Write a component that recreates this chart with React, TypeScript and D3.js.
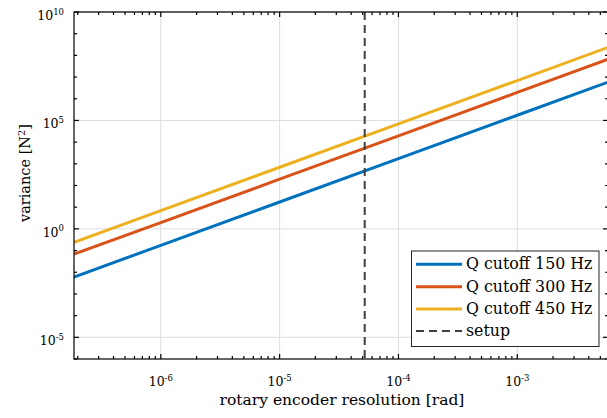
import React from "react";
import * as d3 from "d3";

// Encoder resolution sample points [rad]
const resolution = [1.86e-7, 1e-6, 1e-5, 1e-4, 1e-3, 5.8e-3];
// Force variance [N^2] for each Q-filter cutoff
const variance150 = [6.0e-3, 0.174, 17.4, 1.74e3, 1.74e5, 5.85e6];
const variance300 = [0.068, 1.95, 195, 1.95e4, 1.95e6, 6.56e7];
const variance450 = [0.24, 6.9, 692, 6.9e4, 6.9e6, 2.33e8];
const seriesNames = ["Q cutoff 150 Hz", "Q cutoff 300 Hz", "Q cutoff 450 Hz"];
const seriesColors = ["#0072BD", "#D95319", "#EDB120"];
const setupResolution = 5.2e-5;
const xTickExps = [-6, -5, -4, -3];
const yTickExps = [-5, 0, 5, 10];

const W = 607;
const H = 418;
const left = 74;
const right = 608;
const top = 12;
const bottom = 359;
const FONT = "DejaVu Serif";

export default function App() {
  const x = d3.scaleLog().domain([1.86e-7, 5.8e-3]).range([left, right]);
  const y = d3.scaleLog().domain([1e-6, 1e10]).range([bottom, top]);
  const all = [variance150, variance300, variance450];
  const line = d3
    .line<[number, number]>()
    .x((d) => x(d[0]))
    .y((d) => y(d[1]));

  // minor ticks on x: 2..9 within each decade
  const xMinor: number[] = [];
  for (let e = -7; e <= -3; e++) {
    for (let m = 2; m <= 9; m++) {
      const v = m * Math.pow(10, e);
      if (v > 1.86e-7 && v < 5.8e-3) xMinor.push(v);
    }
  }
  const xMajor = xTickExps.map((e) => Math.pow(10, e));
  const yMinor: number[] = [];
  for (let e = -6; e <= 10; e++) if (!yTickExps.includes(e)) yMinor.push(Math.pow(10, e));
  const yMajor = yTickExps.map((e) => Math.pow(10, e));

  const legX = 411.5;
  const legY = 251;
  const legW = 187.5;
  const legH = 95.5;
  const rowY = [264.3, 286.7, 309, 331];

  return (
    <svg
      width={W}
      height={H}
      style={{ position: "absolute", left: 0, top: 0, background: "#fff", fontFamily: FONT }}
    >
      <defs>
        <clipPath id="plotArea">
          <rect x={left} y={top} width={right - left} height={bottom - top} />
        </clipPath>
      </defs>
      {/* grid */}
      <g stroke="#dcdcdc" strokeWidth={1}>
        {xMajor.map((v, i) => (
          <line key={"gx" + i} x1={x(v)} x2={x(v)} y1={top} y2={bottom} />
        ))}
        {yMajor.map((v, i) => (
          <line key={"gy" + i} x1={left} x2={right} y1={y(v)} y2={y(v)} />
        ))}
      </g>
      {/* data */}
      <g clipPath="url(#plotArea)" fill="none">
        {all.map((vals, i) => (
          <path
            key={i}
            d={line(resolution.map((r, j) => [r, vals[j]] as [number, number])) || ""}
            stroke={seriesColors[i]}
            strokeWidth={3}
          />
        ))}
        <line
          x1={x(setupResolution)}
          x2={x(setupResolution)}
          y1={top}
          y2={bottom}
          stroke="#404040"
          strokeWidth={2}
          strokeDasharray="8,5"
        />
      </g>
      {/* axes box */}
      <g stroke="#000" strokeWidth={1.2} fill="none">
        <rect x={left} y={top} width={right - left} height={bottom - top} />
        {xMajor.map((v, i) => (
          <g key={"xM" + i}>
            <line x1={x(v)} x2={x(v)} y1={bottom} y2={bottom - 5} />
            <line x1={x(v)} x2={x(v)} y1={top} y2={top + 5} />
          </g>
        ))}
        {xMinor.map((v, i) => (
          <g key={"xm" + i}>
            <line x1={x(v)} x2={x(v)} y1={bottom} y2={bottom - 3} />
            <line x1={x(v)} x2={x(v)} y1={top} y2={top + 3} />
          </g>
        ))}
        {yMajor.map((v, i) => (
          <g key={"yM" + i}>
            <line x1={left} x2={left + 5} y1={y(v)} y2={y(v)} />
            <line x1={right} x2={right - 5} y1={y(v)} y2={y(v)} />
          </g>
        ))}
        {yMinor.map((v, i) => (
          <g key={"ym" + i}>
            <line x1={left} x2={left + 3} y1={y(v)} y2={y(v)} />
            <line x1={right} x2={right - 3} y1={y(v)} y2={y(v)} />
          </g>
        ))}
      </g>
      {/* tick labels */}
      <g fill="#000" fontSize={12.5}>
        {xTickExps.map((e, i) => (
          <text key={"xl" + i} x={x(Math.pow(10, e))} y={386} textAnchor="middle">
            10
            <tspan dy={-5.5} fontSize={8.5}>
              {e}
            </tspan>
          </text>
        ))}
        {yTickExps.map((e, i) => (
          <text key={"yl" + i} x={64} y={y(Math.pow(10, e)) + 8} textAnchor="end">
            10
            <tspan dy={-5.5} fontSize={8.5}>
              {e}
            </tspan>
          </text>
        ))}
      </g>
      {/* axis titles */}
      <text x={342} y={405} textAnchor="middle" fontSize={15.5} fill="#000">
        rotary encoder resolution [rad]
      </text>
      <text
        transform="translate(30,173) rotate(-90)"
        textAnchor="middle"
        fontSize={14.5}
        fill="#000"
      >
        variance [N
        <tspan dy={-5} fontSize={10}>
          2
        </tspan>
        <tspan dy={5}>]</tspan>
      </text>
      {/* legend */}
      <g>
        <rect x={legX} y={legY} width={legW} height={legH} fill="#fff" stroke="#262626" strokeWidth={1} />
        {seriesNames.map((name, i) => (
          <g key={"lg" + i}>
            <line x1={416} x2={462} y1={rowY[i]} y2={rowY[i]} stroke={seriesColors[i]} strokeWidth={3} />
            <text x={466} y={rowY[i] + 5} fontSize={15.8} fill="#000">
              {name}
            </text>
          </g>
        ))}
        <line x1={416} x2={462} y1={rowY[3]} y2={rowY[3]} stroke="#404040" strokeWidth={2} strokeDasharray="8,5" />
        <text x={466} y={rowY[3] + 5} fontSize={15.8} fill="#000">
          setup
        </text>
      </g>
    </svg>
  );
}
